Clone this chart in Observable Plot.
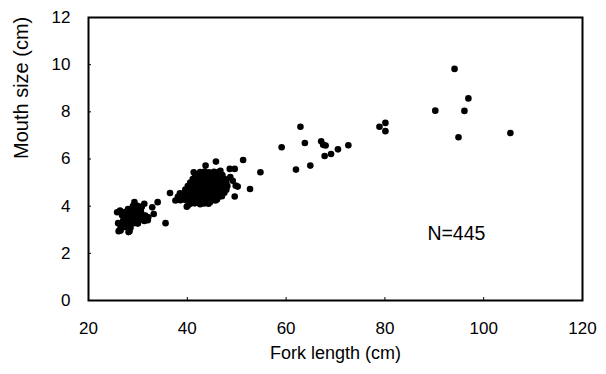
<!DOCTYPE html>
<html><head><meta charset="utf-8">
<script src="https://cdn.jsdelivr.net/npm/d3@7"></script>
<script src="https://cdn.jsdelivr.net/npm/@observablehq/plot@0.6"></script>
<style>
html,body{margin:0;padding:0;background:#fff}
svg{font-family:"Liberation Sans",Arial,Helvetica,sans-serif}
</style>
</head><body><div id="chart"></div>
<script>
// Axis ticks
const xTicks = [20, 40, 60, 80, 100, 120];
const yTicks = [0, 2, 4, 6, 8, 10, 12];

// Small fish (lower cluster)
const smallLength = [26.1, 28.3, 26.5, 28.1, 26.0, 25.8, 26.4, 29.3, 31.3, 32.9, 34.0, 35.6, 33.2, 32.1, 31.5,
  26.5, 27.3, 28.5,
  26.6, 27.5, 28.3, 29.2, 30.0,
  27.0, 27.8, 28.7, 29.5, 30.4, 31.3, 32.0,
  27.2, 28.0, 28.9, 29.7, 30.6, 31.4,
  26.8, 27.6, 28.4, 29.2, 30.0, 30.9,
  27.4, 28.2, 29.0, 29.8, 30.6,
  28.0, 28.8, 29.6, 30.5,
  29.0, 29.9, 30.8];
const smallMouth = [2.94, 2.94, 2.97, 2.90, 3.28, 3.74, 3.81, 4.17, 4.10, 3.95, 4.17, 3.28, 3.67, 3.53, 3.60,
  3.10, 3.12, 3.08,
  3.25, 3.27, 3.24, 3.28, 3.26,
  3.38, 3.40, 3.36, 3.39, 3.41, 3.37, 3.40,
  3.50, 3.52, 3.49, 3.51, 3.53, 3.50,
  3.62, 3.64, 3.61, 3.63, 3.65, 3.62,
  3.75, 3.77, 3.74, 3.76, 3.78,
  3.88, 3.90, 3.87, 3.89,
  4.00, 4.02, 3.98];

// Medium fish (upper cluster)
const mediumLength = [36.5, 37.6, 39.9, 40.2, 41.7, 44.6, 45.7, 43.7, 45.8, 51.3, 52.7, 49.6, 48.6, 49.6, 49.2, 50.2, 47.4, 41.3, 46.7, 48.7, 49.8,
  40.6, 41.5, 42.6, 43.4, 44.3,
  38.6, 39.5, 40.4, 41.4, 42.3, 43.2, 44.1, 45.1, 46.0,
  38.1, 39.0, 39.9, 40.9, 41.8, 42.7, 43.6, 44.6, 45.5, 46.4, 47.0,
  38.5, 39.4, 40.3, 41.2, 42.2, 43.1, 44.0, 44.9, 45.9, 46.8, 47.5,
  39.6, 40.5, 41.4, 42.4, 43.3, 44.2, 45.1, 46.1, 47.0, 47.9,
  40.1, 41.0, 41.9, 42.8, 43.7, 44.7, 45.6, 46.5, 47.4, 48.1,
  40.6, 41.5, 42.4, 43.3, 44.3, 45.2, 46.1, 47.0, 47.9,
  41.1, 42.0, 42.9, 43.8, 44.8, 45.7, 46.6, 47.5,
  41.6, 42.5, 43.4, 44.3, 45.3, 46.2, 47.1,
  42.6, 43.5, 44.4, 45.4, 46.3];
const mediumMouth = [4.56, 4.24, 3.98, 4.05, 4.17, 4.17, 4.24, 5.72, 5.89, 5.96, 4.73, 4.41, 5.58, 5.58, 5.08, 4.83, 4.94, 5.44, 5.50, 5.23, 4.87,
  4.10, 4.12, 4.08, 4.11, 4.10,
  4.25, 4.27, 4.24, 4.26, 4.25, 4.23, 4.27, 4.26, 4.28,
  4.40, 4.42, 4.39, 4.41, 4.40, 4.38, 4.42, 4.41, 4.43, 4.40, 4.42,
  4.55, 4.57, 4.54, 4.56, 4.55, 4.53, 4.57, 4.56, 4.58, 4.55, 4.57,
  4.70, 4.72, 4.69, 4.71, 4.70, 4.68, 4.72, 4.71, 4.73, 4.70,
  4.85, 4.87, 4.84, 4.86, 4.85, 4.83, 4.87, 4.86, 4.88, 4.85,
  5.00, 5.02, 4.99, 5.01, 5.00, 4.98, 5.02, 5.01, 5.03,
  5.15, 5.17, 5.14, 5.16, 5.15, 5.13, 5.17, 5.16,
  5.30, 5.32, 5.29, 5.31, 5.30, 5.28, 5.32,
  5.45, 5.47, 5.44, 5.46, 5.45];

// Large fish (scattered)
const largeLength = [54.8, 59.1, 62.9, 63.8, 62.0, 64.9, 67.1, 67.5, 68.0, 67.8, 69.1, 70.5, 72.6, 78.9, 80.1, 80.1, 90.2, 94.1, 96.9, 96.1, 94.9, 105.4];
const largeMouth = [5.44, 6.50, 7.37, 6.68, 5.55, 5.72, 6.75, 6.60, 6.57, 6.13, 6.21, 6.41, 6.58, 7.37, 7.53, 7.18, 8.05, 9.82, 8.57, 8.04, 6.92, 7.10];

// Annotation
const noteText = ["N=445"];
const noteX = [88.6];
const noteY = [2.84];

const toRows = (xs, ys) => xs.map((x, i) => ({length: x, mouth: ys[i]}));
const fish = [
  ...toRows(smallLength, smallMouth),
  ...toRows(mediumLength, mediumMouth),
  ...toRows(largeLength, largeMouth)
];

const chart = Plot.plot({
  width: 606,
  height: 374,
  marginLeft: 88,
  marginRight: 24,
  marginTop: 17,
  marginBottom: 74,
  style: {fontFamily: '"Liberation Sans", Arial, sans-serif', color: "#000", background: "#fff"},
  x: {domain: [20, 120], ticks: xTicks},
  y: {domain: [0, 12], ticks: yTicks},
  marks: [
    Plot.axisX({ticks: xTicks, tickSize: 0, tickPadding: 21, fontSize: 17, label: null}),
    Plot.axisX({ticks: xTicks, tickSize: -3, tickFormat: () => "", label: null, strokeWidth: 1}),
    Plot.axisY({ticks: yTicks, tickSize: 0, tickPadding: 18, fontSize: 17, label: null}),
    Plot.axisY({ticks: yTicks, tickSize: -3, tickFormat: () => "", label: null, strokeWidth: 1}),
    Plot.frame({stroke: "#000", strokeWidth: 2}),
    Plot.dot(fish, {x: "length", y: "mouth", r: 3.3, fill: "#000", stroke: "none"}),
    Plot.text(noteText, {x: noteX, y: noteY, text: d => d, textAnchor: "start", fontSize: 19.5, letterSpacing: 1}),
    Plot.text(["Fork length (cm)"], {frameAnchor: "bottom", dy: 58, fontSize: 18, letterSpacing: 0.8}),
    Plot.text(["Mouth size (cm)"], {frameAnchor: "left", dx: -67, rotate: -90, fontSize: 20, letterSpacing: 0.6})
  ]
});
document.getElementById("chart").append(chart);
</script>
</body></html>
